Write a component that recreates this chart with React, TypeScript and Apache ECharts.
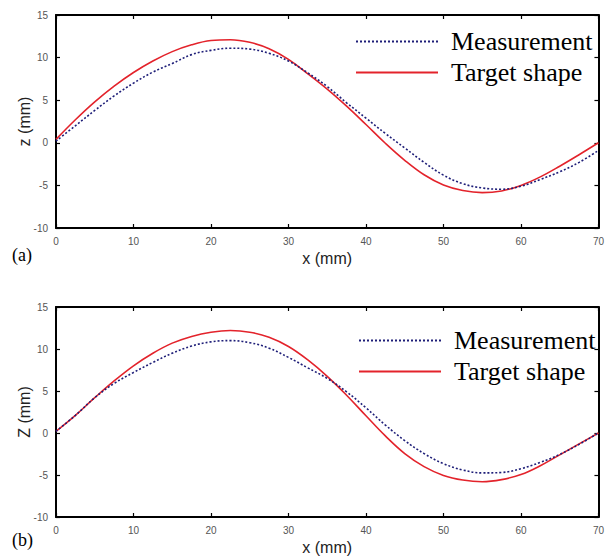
import React, { useEffect, useRef } from "react";
import * as echarts from "echarts";

const xs = [0, 2.5, 5, 7.5, 10, 12.5, 15, 17.5, 20, 22.5, 25, 27.5, 30, 32.5, 35, 37.5, 40, 42.5, 45, 47.5, 50, 52.5, 55, 57.5, 60, 62.5, 65, 67.5, 70];

// panel (a)
const measA = [0.2, 2.0, 3.8, 5.5, 7.0, 8.3, 9.3, 10.35, 10.85, 11.1, 11.0, 10.5, 9.6, 8.2, 6.6, 4.7, 2.9, 1.1, -0.6, -2.3, -3.8, -4.8, -5.3, -5.45, -5.1, -4.3, -3.4, -2.3, -0.9];
const targetA = [0.4, 2.7, 4.8, 6.65, 8.25, 9.6, 10.7, 11.5, 12.0, 12.1, 11.8, 11.05, 9.8, 8.1, 6.3, 4.3, 2.15, -0.05, -2.05, -3.75, -4.95, -5.6, -5.85, -5.65, -5.0, -4.0, -2.75, -1.4, 0.0];

// panel (b)
const measB = [0.2, 2.1, 4.2, 5.9, 7.2, 8.4, 9.5, 10.35, 10.85, 11.0, 10.75, 10.1, 9.0, 7.75, 6.5, 4.9, 3.0, 0.95, -0.9, -2.45, -3.65, -4.4, -4.75, -4.7, -4.25, -3.5, -2.55, -1.35, 0.0];
const targetB = [0.2, 2.1, 4.2, 6.2, 8.0, 9.5, 10.7, 11.5, 12.0, 12.2, 12.0, 11.4, 10.3, 8.7, 6.75, 4.5, 2.05, -0.35, -2.45, -4.0, -5.05, -5.6, -5.8, -5.55, -4.95, -3.9, -2.6, -1.3, 0.0];

const legendNames = ["Measurement", "Target shape"];
const xTicks = { min: 0, max: 70, interval: 10 };
const yTicks = { min: -10, max: 15, interval: 5 };

const MEAS_COLOR = "#1e1e78";
const TARGET_COLOR = "#e3232b";

const pts = (arr: number[]) => xs.map((x, i) => [x, arr[i]]);

export default function App() {
  const ref = useRef<HTMLDivElement>(null);
  useEffect(() => {
    if (!ref.current) return;
    const chart = echarts.init(ref.current, null, { renderer: "svg" });
    const sans = "Liberation Sans, Arial, sans-serif";
    const serif = "Liberation Serif, Times New Roman, serif";
    const lineAxis = { show: true, onZero: false, lineStyle: { color: "#000", width: 2 } };
    const tick = { show: true, inside: true, length: 4, lineStyle: { color: "#000", width: 1.2 } };
    const label = { color: "#555", fontSize: 10, fontFamily: sans, margin: 8 };

    const makeX = (g: number) => [
      {
        gridIndex: g, type: "value", position: "bottom", ...xTicks,
        axisLine: lineAxis, axisTick: tick, axisLabel: label, splitLine: { show: false },
        name: "x (mm)", nameLocation: "middle", nameGap: 22, nameMoveOverlap: false,
        nameTextStyle: { fontSize: 16, color: "#222", fontFamily: sans },
      },
      {
        gridIndex: g, type: "value", position: "top", ...xTicks,
        axisLine: lineAxis, axisTick: tick, axisLabel: { show: false }, splitLine: { show: false },
      },
    ];
    const makeY = (g: number, name: string) => [
      {
        gridIndex: g, type: "value", position: "left", ...yTicks,
        axisLine: lineAxis, axisTick: tick, axisLabel: label, splitLine: { show: false },
        name, nameLocation: "middle", nameGap: 24, nameMoveOverlap: false,
        nameTextStyle: { fontSize: 16, color: "#222", fontFamily: sans },
      },
      {
        gridIndex: g, type: "value", position: "right", ...yTicks,
        axisLine: lineAxis, axisTick: tick, axisLabel: { show: false }, splitLine: { show: false },
      },
    ];

    const measStyle = { color: MEAS_COLOR, width: 1.6, type: [2, 2] };
    const targetStyle = { color: TARGET_COLOR, width: 1.6, type: "solid" };

    const mk = (name: string, data: number[], xi: number, yi: number, style: any) => ({
      name, type: "line", xAxisIndex: xi, yAxisIndex: yi, data: pts(data),
      smooth: 0.4, symbol: "none", lineStyle: style, itemStyle: { color: style.color },
      z: name === "Measurement" ? 3 : 2,
    });

    const legendBase = {
      orient: "vertical", itemWidth: 82, itemHeight: 14, itemGap: 0, padding: 0,
      selectedMode: false, data: legendNames,
      itemStyle: { opacity: 0, color: "transparent", borderWidth: 0 },
      textStyle: { fontFamily: serif, fontSize: 26, color: "#000", lineHeight: 31, padding: [0, 0, 0, 8] },
    };

    chart.setOption({
      animation: false,
      backgroundColor: "#fff",
      grid: [
        { left: 56, top: 15, width: 547, height: 213 },
        { left: 56, top: 307, width: 543, height: 210 },
      ],
      xAxis: [...makeX(0), ...makeX(1)],
      yAxis: [...makeY(0, "z (mm)"), ...makeY(1, "Z (mm)")],
      legend: [
        { ...legendBase, left: 355, top: 26 },
        { ...legendBase, left: 358, top: 325 },
      ],
      series: [
        mk("Measurement", measA, 0, 0, measStyle),
        mk("Target shape", targetA, 0, 0, targetStyle),
        mk("Measurement", measB, 2, 2, measStyle),
        mk("Target shape", targetB, 2, 2, targetStyle),
      ],
      graphic: [
        { type: "text", left: 12, top: 246, style: { text: "(a)", font: "18px " + serif, fill: "#000" } },
        { type: "text", left: 12, top: 531, style: { text: "(b)", font: "18px " + serif, fill: "#000" } },
      ],
    });
    return () => chart.dispose();
  }, []);
  return <div ref={ref} style={{ position: "fixed", left: 0, top: 0, width: 607, height: 556 }} />;
}
